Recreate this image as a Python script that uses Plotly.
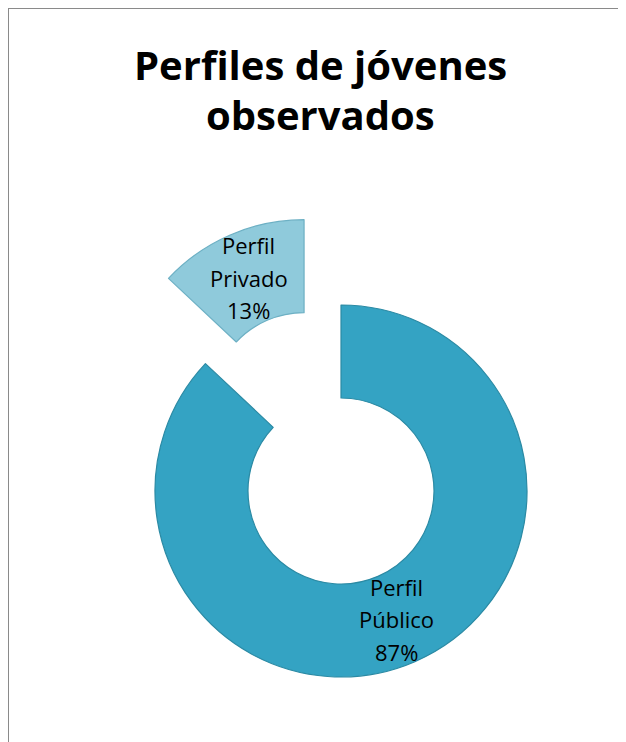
import math
import plotly.graph_objects as go

# Data
categories = ["Perfil Público", "Perfil Privado"]
values = [87, 13]
colors = ["#34A3C3", "#8FCADB"]
line_colors = ["#2B8AA4", "#6DB0C4"]
title_lines = ["Perfiles de jóvenes", "observados"]

# Page has an 8px body margin; work in figure pixel coordinates
OFF = 8
W, H = 626 - OFF, 742 - OFF
R = 186                              # outer radius in px
HOLE = 0.5
CX, CY = 341 - OFF, 491 - OFF        # centre of the ring (px from top-left)
PULL = 0.5                           # detached slice offset, fraction of radius


def domain(cx, cy, r):
    return dict(x=[(cx - r) / W, (cx + r) / W],
                y=[(H - cy - r) / H, (H - cy + r) / H])


total = sum(values)
# angular geometry (clockwise from 12 o'clock)
mids = []
acc = 0.0
for v in values:
    mids.append((acc + v / 2) / total * 2 * math.pi)
    acc += v

# offsets (pull) of each slice in px
pulls = [0.0, PULL]
offsets = [(p * R * math.sin(m), -p * R * math.cos(m)) for p, m in zip(pulls, mids)]

fig = go.Figure()
for i in range(len(values)):
    cols = ["rgba(0,0,0,0)"] * len(values)
    lcols = ["rgba(0,0,0,0)"] * len(values)
    cols[i] = colors[i]
    lcols[i] = line_colors[i]
    dx, dy = offsets[i]
    fig.add_trace(go.Pie(
        labels=categories, values=values,
        hole=HOLE, sort=False, direction="clockwise", rotation=0,
        marker=dict(colors=cols, line=dict(color=lcols, width=1.2)),
        textinfo="none",
        domain=domain(CX + dx, CY + dy, R), showlegend=False, hoverinfo="skip",
    ))

# labels at the middle of each ring segment
annotations = []
rmid = R * (1 + HOLE) / 2
LINE = 32.5
for i, (cat, v) in enumerate(zip(categories, values)):
    dx, dy = offsets[i]
    px = CX + dx + rmid * math.sin(mids[i])
    py = CY + dy - rmid * math.cos(mids[i])
    lines = cat.split(" ") + [f"{round(100 * v / total)}%"]
    n = len(lines)
    for k, t in enumerate(lines):
        yy = py + (k - (n - 1) / 2) * LINE
        annotations.append(dict(
            text=t, x=px / W, y=1 - yy / H, xref="paper", yref="paper",
            xanchor="center", yanchor="middle", showarrow=False,
            font=dict(family="Open Sans", size=22, color="#000000")))

# title (two lines)
TITLE_Y = [64 - OFF, 115 - OFF]
for t, ty in zip(title_lines, TITLE_Y):
    annotations.append(dict(
        text=f"<b>{t}</b>", x=312.5 / W, y=1 - ty / H, xref="paper", yref="paper",
        xanchor="center", yanchor="middle", showarrow=False,
        font=dict(family="Open Sans", size=40, color="#000000")))

fig.update_layout(
    width=W, height=H,
    margin=dict(l=0, r=0, t=0, b=0),
    paper_bgcolor="white", plot_bgcolor="white",
    annotations=annotations,
    shapes=[dict(type="rect", xref="paper", yref="paper",
                 x0=0, x1=1.05, y0=-0.05, y1=1,
                 line=dict(color="#8a8a8a", width=2), fillcolor="rgba(0,0,0,0)")],
)

fig.write_html("out.html")
